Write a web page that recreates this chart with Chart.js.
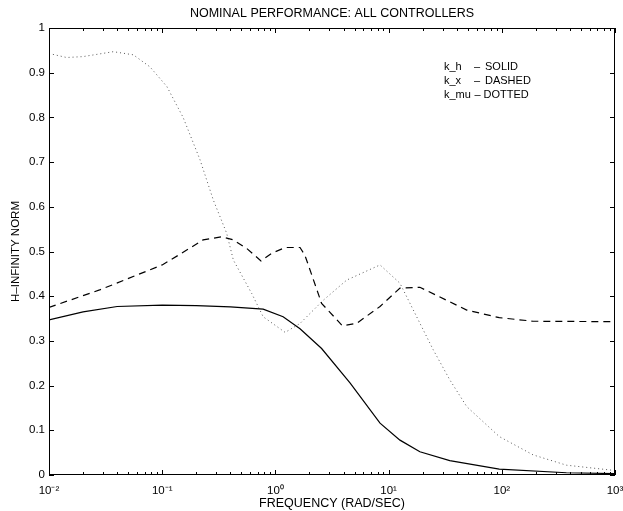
<!DOCTYPE html>
<html>
<head>
<meta charset="utf-8">
<script src="https://cdn.jsdelivr.net/npm/chart.js@4.4.1/dist/chart.umd.min.js"></script>
<style>
  html, body { margin: 0; padding: 0; background: #fff; }
  canvas { display: block; }
</style>
</head>
<body>
<canvas id="normChart" width="623" height="511"></canvas>
<script>
// values
const freqSolid = [0.01, 0.02, 0.04, 0.1, 0.2, 0.4, 0.78, 1.17, 1.65, 2.56, 4.56, 8.4, 12.6, 18.9, 34.7, 95, 372, 1000];
const normSolid = [0.347, 0.365, 0.377, 0.38, 0.379, 0.376, 0.371, 0.354, 0.327, 0.283, 0.206, 0.116, 0.078, 0.052, 0.032, 0.013, 0.005, 0.003];

const freqDashed = [0.01, 0.028, 0.1, 0.144, 0.23, 0.336, 0.425, 0.557, 0.746, 0.927, 1.22, 1.65, 1.82, 2.56, 3.9, 5.2, 8.4, 12.6, 18.9, 49, 95, 189, 1000];
const normDashed = [0.375, 0.414, 0.47, 0.494, 0.526, 0.533, 0.526, 0.507, 0.479, 0.496, 0.509, 0.509, 0.492, 0.384, 0.334, 0.339, 0.377, 0.418, 0.42, 0.369, 0.352, 0.344, 0.343];

const freqDotted = [0.01, 0.0143, 0.02, 0.037, 0.0556, 0.078, 0.11, 0.153, 0.216, 0.283, 0.371, 0.425, 0.618, 0.78, 1.22, 1.65, 2.65, 4.26, 8.4, 12.6, 17.7, 24.8, 34.7, 49, 95, 189, 372, 1000];
const normDotted = [0.943, 0.934, 0.936, 0.947, 0.94, 0.913, 0.869, 0.80, 0.705, 0.615, 0.541, 0.481, 0.406, 0.354, 0.319, 0.339, 0.391, 0.436, 0.47, 0.429, 0.354, 0.28, 0.213, 0.153, 0.086, 0.045, 0.022, 0.01];

const xTickValues = [0.01, 0.1, 1, 10, 100, 1000];
const xTickLabels = ["10\u207B\u00B2", "10\u207B\u00B9", "10\u2070", "10\u00B9", "10\u00B2", "10\u00B3"];

const legendNames = ["k_h", "k_x", "k_mu"];
const legendStyles = ["SOLID", "DASHED", "DOTTED"];

const FONT = "'Liberation Sans', Arial, Helvetica, sans-serif";

function toPoints(xs, ys) {
  return xs.map((x, i) => ({ x: x, y: ys[i] }));
}

// matlab style box, inward ticks and the text legend
const boxPlugin = {
  id: "matlabBox",
  afterDraw(chart) {
    const ctx = chart.ctx;
    const a = chart.chartArea;
    const xs = chart.scales.x;
    const ys = chart.scales.y;
    ctx.save();
    ctx.strokeStyle = "#000";
    ctx.lineWidth = 1;
    ctx.strokeRect(a.left + 0.5, a.top + 0.5, a.right - a.left - 1, a.bottom - a.top - 1);

    ctx.beginPath();
    for (let d = -2; d <= 3; d++) {
      for (let m = 1; m <= 9; m++) {
        const v = m * Math.pow(10, d);
        if (v > 1000) break;
        const px = Math.round(xs.getPixelForValue(v)) + 0.5;
        const len = m === 1 ? 5 : 3;
        ctx.moveTo(px, a.bottom);
        ctx.lineTo(px, a.bottom - len);
        ctx.moveTo(px, a.top);
        ctx.lineTo(px, a.top + len);
      }
    }
    for (let k = 0; k <= 10; k++) {
      const py = Math.round(ys.getPixelForValue(k / 10)) + 0.5;
      ctx.moveTo(a.left, py);
      ctx.lineTo(a.left + 5, py);
      ctx.moveTo(a.right, py);
      ctx.lineTo(a.right - 5, py);
    }
    ctx.stroke();

    ctx.fillStyle = "#000";
    ctx.font = "11px " + FONT;
    ctx.textBaseline = "middle";
    const rowY = [67, 81, 95];
    const dashX = [474, 474, 474.5];
    const wordX = [485, 485, 483.5];
    legendNames.forEach((name, i) => {
      ctx.fillText(name, 444, rowY[i]);
      ctx.fillText("\u2013", dashX[i], rowY[i]);
      ctx.fillText(legendStyles[i], wordX[i], rowY[i]);
    });
    ctx.restore();
  }
};

new Chart(document.getElementById("normChart"), {
  type: "line",
  data: {
    datasets: [
      {
        label: "k_h",
        data: toPoints(freqSolid, normSolid),
        borderColor: "#000",
        borderWidth: 1.2
      },
      {
        label: "k_x",
        data: toPoints(freqDashed, normDashed),
        borderColor: "#000",
        borderWidth: 1.2,
        borderDash: [7, 5]
      },
      {
        label: "k_mu",
        data: toPoints(freqDotted, normDotted),
        borderColor: "#555",
        borderWidth: 1,
        borderDash: [1, 3]
      }
    ]
  },
  options: {
    responsive: false,
    animation: false,
    layout: { padding: { left: 0, right: 0, top: 0, bottom: 0 } },
    elements: { point: { radius: 0 }, line: { tension: 0 } },
    plugins: {
      legend: { display: false },
      tooltip: { enabled: false },
      title: {
        display: true,
        fullSize: false,
        text: "NOMINAL PERFORMANCE: ALL CONTROLLERS",
        color: "#000",
        font: { family: FONT, size: 12.5, weight: "normal", lineHeight: 1.2 },
        padding: { top: 6, bottom: 7 }
      }
    },
    scales: {
      x: {
        type: "logarithmic",
        min: 0.01,
        max: 1000,
        afterBuildTicks: (scale) => {
          scale.ticks = xTickValues.map(v => ({ value: v }));
        },
        afterFit: (scale) => {
          scale.height = 36;
          scale.paddingLeft = 0;
          scale.paddingRight = 8;
        },
        grid: { display: false, drawTicks: false },
        border: { display: false },
        ticks: {
          color: "#000",
          padding: 9,
          maxRotation: 0,
          autoSkip: false,
          font: { family: FONT, size: 11.5 },
          callback: (v) => {
            const i = xTickValues.indexOf(v);
            return i >= 0 ? xTickLabels[i] : "";
          }
        },
        title: {
          display: true,
          text: "FREQUENCY (RAD/SEC)",
          color: "#000",
          font: { family: FONT, size: 12.5 },
          padding: { top: 0, bottom: 0 }
        }
      },
      y: {
        min: 0,
        max: 1,
        afterFit: (scale) => { scale.width = 49; },
        grid: { display: false, drawTicks: false },
        border: { display: false },
        ticks: {
          stepSize: 0.1,
          color: "#000",
          padding: 4,
          font: { family: FONT, size: 11.5 },
          callback: (v) => String(Math.round(v * 10) / 10)
        },
        title: {
          display: true,
          text: "H\u2013INFINITY NORM",
          color: "#000",
          font: { family: FONT, size: 11.5 },
          padding: { top: 9, bottom: 0 }
        }
      }
    }
  },
  plugins: [boxPlugin]
});
</script>
</body>
</html>
